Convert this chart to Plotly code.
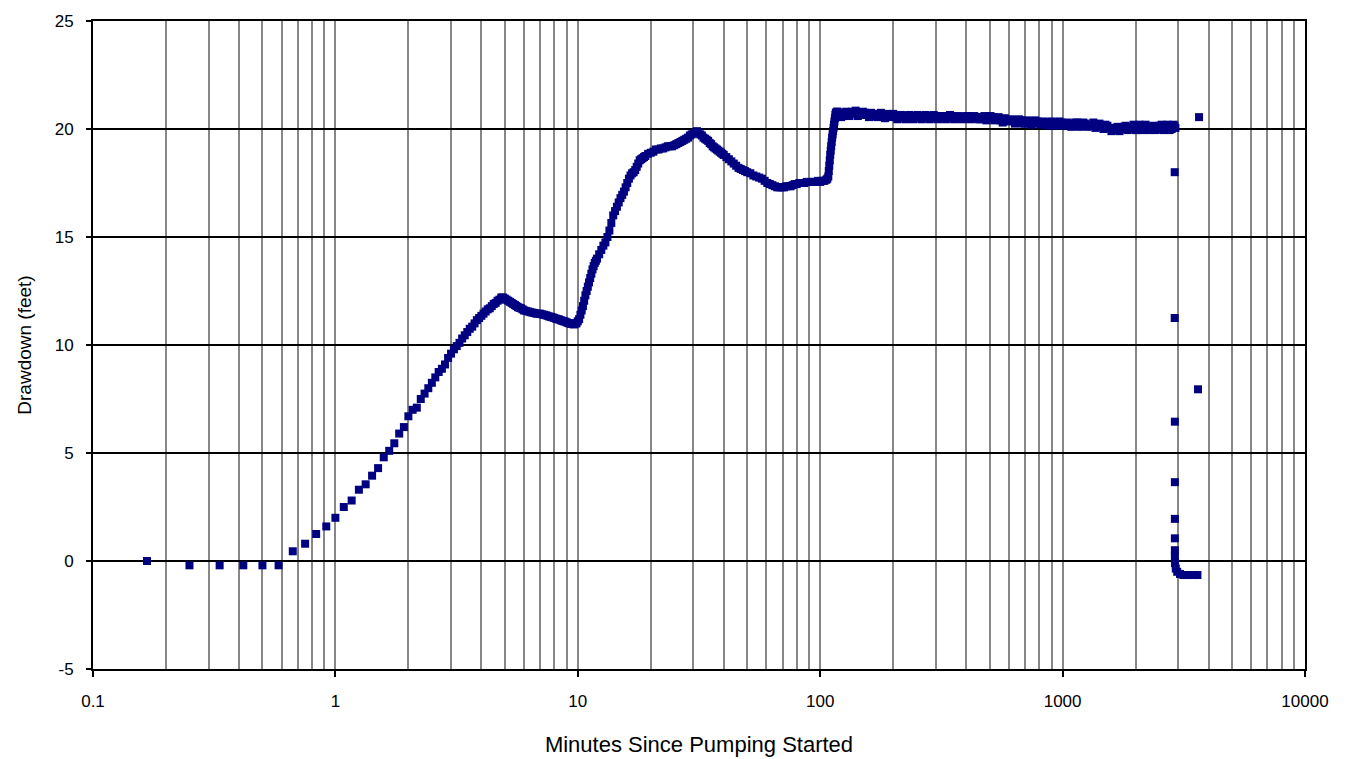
import plotly.graph_objects as go

# Elapsed time since the pump was switched on (minutes)
minutes_early = [0.167, 0.25, 0.333, 0.417, 0.5, 0.583, 0.667, 0.75, 0.833, 0.917,
                 1.0, 1.083, 1.167, 1.25, 1.333, 1.417, 1.5, 1.583, 1.667, 1.75,
                 1.833, 1.917, 2.0, 2.083, 2.167, 2.25, 2.333, 2.417, 2.5, 2.583,
                 2.667, 2.75, 2.833, 2.917, 3.0, 3.083, 3.167, 3.25, 3.333, 3.417,
                 3.5, 3.583, 3.667, 3.75, 3.833, 3.917, 4.0, 4.083, 4.167, 4.25,
                 4.333, 4.417, 4.5, 4.583, 4.667, 4.75, 4.833, 4.917, 5.0, 5.167,
                 5.333, 5.5, 5.667, 5.833, 6.0, 6.25, 6.5, 6.75, 7.0, 7.25,
                 7.5, 7.75, 8.0, 8.25, 8.5, 8.75, 9.0, 9.25, 9.5, 9.75]
drawdown_early = [0.0, -0.2, -0.2, -0.2, -0.2, -0.2, 0.45, 0.8, 1.25, 1.6,
                  2.0, 2.5, 2.8, 3.3, 3.55, 3.95, 4.3, 4.8, 5.1, 5.45,
                  5.9, 6.2, 6.7, 7.0, 7.1, 7.5, 7.75, 8.0, 8.25, 8.5,
                  8.75, 8.9, 9.1, 9.4, 9.6, 9.8, 9.95, 10.1, 10.3, 10.45,
                  10.6, 10.75, 10.85, 11.0, 11.15, 11.25, 11.35, 11.45, 11.55, 11.65,
                  11.7, 11.8, 11.9, 11.95, 12.05, 12.1, 12.2, 12.2, 12.15, 12.05,
                  11.95, 11.85, 11.75, 11.7, 11.6, 11.55, 11.5, 11.45, 11.45, 11.4,
                  11.35, 11.3, 11.25, 11.2, 11.15, 11.1, 11.05, 11.0, 11.0, 11.0]

minutes_early_b = [5.083, 5.25, 5.417, 5.583, 5.75, 5.917, 6.125, 6.375, 6.625, 6.875,
                   7.125, 7.375, 7.625, 7.875, 8.125, 8.375, 8.625, 8.875, 9.125, 9.375,
                   9.625, 9.875]
drawdown_early_b = [12.1, 12.0, 11.9, 11.8, 11.72, 11.65, 11.58, 11.52, 11.48, 11.45,
                    11.42, 11.38, 11.32, 11.28, 11.22, 11.18, 11.12, 11.08, 11.02, 10.98,
                    10.95, 11.0]

minutes_mid = [10.0, 10.25, 10.5, 10.75, 11.0, 11.25, 11.5, 11.75, 12.0, 12.5,
               13.0, 13.5, 14.0, 14.5, 15.0, 15.5, 16.0, 16.5, 17.0, 17.5,
               18.0, 18.5, 19.0, 20.0, 21.0, 22.0, 23.0, 24.0, 25.0, 26.0,
               27.0, 28.0, 29.0, 30.0, 31.0, 32.0, 33.0, 34.0, 35.0, 36.0,
               37.0, 38.0, 39.0, 40.0, 42.0, 44.0, 46.0, 48.0, 50.0, 53.0,
               56.0, 59.0, 62.0, 65.0, 68.0, 71.0, 74.0, 77.0, 80.0, 84.0,
               88.0, 92.0, 96.0, 100.0, 104.0, 106.0, 108.0, 109.0, 110.0, 111.0,
               112.0, 113.0, 114.0, 115.0, 116.0, 118.0]
drawdown_mid = [11.1, 11.4, 11.8, 12.3, 12.7, 13.1, 13.5, 13.8, 14.0, 14.4,
                14.75, 15.3, 16.0, 16.4, 16.8, 17.1, 17.5, 17.85, 18.0, 18.25,
                18.55, 18.65, 18.75, 18.9, 19.05, 19.1, 19.15, 19.2, 19.25, 19.35,
                19.45, 19.55, 19.7, 19.8, 19.9, 19.75, 19.6, 19.5, 19.35, 19.2,
                19.1, 19.0, 18.9, 18.8, 18.6, 18.4, 18.2, 18.1, 18.0, 17.85,
                17.75, 17.6, 17.45, 17.35, 17.3, 17.3, 17.35, 17.4, 17.45, 17.5,
                17.55, 17.55, 17.55, 17.55, 17.6, 17.65, 17.8, 18.3, 18.8, 19.2,
                19.6, 19.9, 20.2, 20.5, 20.75, 20.8]

minutes_mid_b = [10.125, 10.375, 10.625, 10.875, 11.125, 11.375, 11.625, 11.875, 12.25, 12.75,
                 13.25, 13.75, 14.25, 14.75, 15.25, 15.75, 16.25, 16.75, 17.25, 17.75,
                 18.25, 18.75, 19.5, 20.5, 21.5, 22.5, 23.5, 24.5, 25.5, 26.5,
                 27.5, 28.5, 29.5, 30.5, 31.5, 32.5, 33.5, 34.5, 35.5, 36.5,
                 37.5, 38.5, 39.5, 41.0, 43.0, 45.0, 47.0, 49.0, 51.5, 54.5,
                 57.5, 60.5, 63.5, 66.5, 69.5, 72.5, 75.5, 78.5, 82.0, 86.0,
                 90.0, 94.0, 98.0, 102.0, 107.0, 108.5, 109.5, 110.5, 111.5, 112.5,
                 113.5, 114.5, 115.5, 117.0]
drawdown_mid_b = [11.2, 11.6, 12.05, 12.5, 12.9, 13.3, 13.65, 13.9, 14.2, 14.6,
                  15.0, 15.65, 16.2, 16.6, 16.95, 17.3, 17.7, 17.95, 18.1, 18.4,
                  18.6, 18.7, 18.85, 18.95, 19.05, 19.1, 19.2, 19.2, 19.3, 19.4,
                  19.5, 19.6, 19.75, 19.85, 19.85, 19.7, 19.55, 19.45, 19.3, 19.15,
                  19.05, 18.95, 18.85, 18.7, 18.5, 18.3, 18.15, 18.05, 17.95, 17.8,
                  17.7, 17.5, 17.4, 17.3, 17.3, 17.35, 17.35, 17.45, 17.5, 17.5,
                  17.55, 17.55, 17.6, 17.6, 17.7, 18.05, 18.55, 19.0, 19.4, 19.75,
                  20.05, 20.35, 20.65, 20.8]

minutes_late = [120, 125, 130, 135, 140, 145, 150, 156, 162, 168,
                175, 182, 189, 196, 204, 212, 220, 229, 238, 247,
                257, 267, 278, 289, 300, 312, 324, 337, 350, 364,
                378, 393, 408, 424, 441, 458, 476, 495, 514, 534,
                555, 577, 600, 624, 648, 673, 700, 727, 755, 785,
                815, 847, 880, 915, 950, 987, 1025, 1065, 1107, 1150,
                1195, 1241, 1290, 1340, 1392, 1446, 1502, 1560, 1621, 1684,
                1750, 1818, 1889, 1962, 2038, 2117, 2200, 2285, 2374, 2466,
                2562, 2660, 2765, 2870, 2920]
drawdown_late = [20.75, 20.6, 20.7, 20.8, 20.85, 20.75, 20.8, 20.65, 20.75, 20.6,
                 20.7, 20.6, 20.7, 20.55, 20.65, 20.5, 20.6, 20.5, 20.6, 20.5,
                 20.6, 20.5, 20.6, 20.5, 20.6, 20.5, 20.6, 20.5, 20.6, 20.5,
                 20.55, 20.5, 20.6, 20.5, 20.55, 20.45, 20.6, 20.5, 20.55, 20.45,
                 20.4, 20.5, 20.35, 20.4, 20.3, 20.4, 20.25, 20.35, 20.25, 20.35,
                 20.2, 20.3, 20.2, 20.3, 20.2, 20.3, 20.2, 20.25, 20.2, 20.3,
                 20.15, 20.25, 20.15, 20.3, 20.2, 20.1, 20.2, 20.05, 19.95, 20.1,
                 20.0, 20.15, 20.0, 20.2, 19.95, 20.1, 20.2, 19.95, 20.15, 20.0,
                 20.2, 20.05, 19.95, 20.2, 20.05]

minutes_late_b = [122, 128, 132, 138, 143, 148, 153, 159, 165, 172,
                  178, 185, 192, 200, 208, 216, 225, 233, 242, 252,
                  262, 272, 283, 294, 306, 318, 330, 343, 357, 371,
                  385, 400, 416, 432, 449, 467, 485, 504, 524, 544,
                  566, 588, 612, 636, 660, 686, 713, 741, 770, 800,
                  831, 863, 897, 932, 968, 1006, 1045, 1086, 1128, 1172,
                  1218, 1265, 1315, 1366, 1419, 1474, 1531, 1590, 1652, 1717,
                  1784, 1853, 1925, 2000, 2077, 2158, 2242, 2330, 2420, 2514,
                  2611, 2712, 2818, 2895]
drawdown_late_b = [20.55, 20.8, 20.6, 20.7, 20.6, 20.65, 20.75, 20.55, 20.65, 20.55,
                   20.75, 20.5, 20.6, 20.7, 20.45, 20.65, 20.45, 20.65, 20.45, 20.65,
                   20.45, 20.65, 20.45, 20.65, 20.45, 20.6, 20.45, 20.65, 20.45, 20.6,
                   20.45, 20.6, 20.45, 20.6, 20.45, 20.55, 20.4, 20.6, 20.4, 20.55,
                   20.3, 20.4, 20.45, 20.25, 20.45, 20.25, 20.4, 20.2, 20.4, 20.25,
                   20.35, 20.15, 20.35, 20.15, 20.35, 20.15, 20.3, 20.1, 20.3, 20.1,
                   20.3, 20.1, 20.2, 20.05, 20.25, 20.0, 20.15, 19.9, 20.05, 19.9,
                   20.1, 19.95, 20.1, 19.95, 20.2, 19.95, 20.1, 20.0, 19.95, 20.15,
                   19.95, 20.2, 20.0, 20.15]

# Pump shut-off and recovery readings
minutes_recovery = [2900, 2900, 2905, 2905, 2905, 2905, 2905, 2905, 2910, 2930,
                    2970, 3050, 3150, 3300, 3450, 3600, 3620, 3655]
drawdown_recovery = [18.0, 11.25, 6.45, 3.65, 1.95, 1.05, 0.5, 0.2, -0.1, -0.35,
                     -0.5, -0.6, -0.65, -0.65, -0.65, -0.65, 7.95, 20.55]

decades = [0.1, 1, 10, 100, 1000, 10000]
decade_labels = ["0.1", "1", "10", "100", "1000", "10000"]
minor_vals = [m * d for d in [0.1, 1, 10, 100, 1000] for m in range(2, 10)]
y_vals = [-5, 0, 5, 10, 15, 20, 25]
y_labels = ["-5", "0", "5", "10", "15", "20", "25"]

minutes = (minutes_early + minutes_early_b + minutes_mid + minutes_mid_b
           + minutes_late + minutes_late_b + minutes_recovery)
drawdown = (drawdown_early + drawdown_early_b + drawdown_mid + drawdown_mid_b
            + drawdown_late + drawdown_late_b + drawdown_recovery)

font_family = "Liberation Sans, Arial, sans-serif"

fig = go.Figure(go.Scatter(
    x=minutes, y=drawdown, mode="markers",
    marker=dict(symbol="square", size=8, color="#000080", line=dict(width=0)),
    showlegend=False,
))

fig.update_layout(
    width=1350, height=759,
    margin=dict(l=93, r=45, t=21, b=90),
    paper_bgcolor="white", plot_bgcolor="white",
    font=dict(family=font_family, color="black", size=17),
)

fig.update_xaxes(
    type="log", range=[-1, 4], automargin=False,
    tickvals=decades, ticktext=decade_labels,
    ticks="outside", ticklen=6, tickwidth=1.5, tickcolor="black",
    ticklabelstandoff=10,
    tickfont=dict(size=17),
    showgrid=True, gridcolor="#878787", gridwidth=1.8,
    minor=dict(tickvals=minor_vals, showgrid=True, gridcolor="#878787", gridwidth=1.8, ticks=""),
    showline=True, linecolor="black", linewidth=2, mirror=True,
    zeroline=False,
    title=dict(text="Minutes Since Pumping Started", font=dict(size=22), standoff=26),
)

fig.update_yaxes(
    range=[-5, 25], tickvals=y_vals, ticktext=y_labels, automargin=False,
    ticks="outside", ticklen=5, tickwidth=1.5, tickcolor="black",
    ticklabelstandoff=9,
    tickfont=dict(size=17),
    showgrid=True, gridcolor="black", gridwidth=1.8,
    zeroline=True, zerolinecolor="black", zerolinewidth=1.8,
    showline=True, linecolor="black", linewidth=2, mirror=True,
    title=dict(text="Drawdown (feet)", font=dict(size=19), standoff=18),
)

fig.write_html("out.html")
